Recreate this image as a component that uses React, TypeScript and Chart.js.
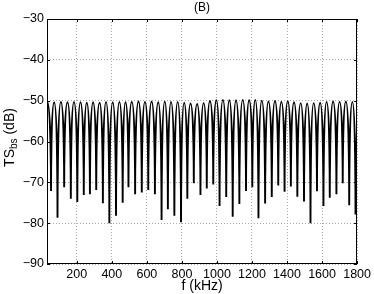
import { useEffect, useRef } from "react";
import { Chart, registerables } from "chart.js";

Chart.register(...registerables);

const chartTitle = "(B)";
const xAxisLabel = "f (kHz)";
const yAxisMain = "TS";
const yAxisSub = "bs";
const yAxisUnit = " (dB)";

const xMin = 30;
const xMax = 1800;
const yMin = -90;
const yMax = -30;
const xTicks = [200, 400, 600, 800, 1000, 1200, 1400, 1600, 1800];
const yTicks = [-90, -80, -70, -60, -50, -40, -30];

const startFreq = 30;
const startLevel = -50.1;
const endFreq = 1800;
const endLevel = -55.5;

const nullFreqs = [
  53, 90, 128, 166, 203, 240, 275, 311, 349, 386, 424, 462,
  495, 533, 571, 608, 646, 684, 720, 757, 795, 831, 868, 906,
  942, 979, 1015, 1053, 1090, 1128, 1166, 1202, 1237, 1275, 1313, 1350,
  1386, 1422, 1459, 1497, 1534, 1571, 1608, 1644, 1682, 1718, 1755, 1791,
];
const nullLevels = [
  -72.1, -78.7, -71.2, -74.0, -74.8, -73.1, -72.9, -71.9, -75.1, -80.0, -78.2, -75.0,
  -71.2, -72.9, -72.5, -71.9, -72.9, -79.2, -76.6, -78.2, -79.8, -74.0, -70.2, -73.1,
  -71.5, -70.5, -75.8, -73.6, -78.4, -75.3, -72.1, -71.2, -78.8, -75.2, -73.6, -70.8,
  -72.3, -71.0, -73.5, -74.7, -80.0, -72.2, -75.8, -73.8, -72.9, -70.2, -75.6, -77.9,
];
const peakFreqs = [
  71, 109, 147, 184, 221, 257, 293, 330, 367, 405, 443, 478,
  514, 552, 589, 627, 665, 702, 738, 776, 813, 849, 887, 924,
  960, 997, 1034, 1071, 1109, 1147, 1184, 1219, 1256, 1294, 1331, 1368,
  1404, 1440, 1478, 1515, 1552, 1589, 1626, 1663, 1700, 1736, 1773,
];
const peakLevels = [
  -50.4, -50.3, -50.4, -50.3, -50.4, -50.5, -50.4, -50.5, -50.3, -50.4, -50.3, -50.4,
  -50.3, -50.2, -50.3, -50.2, -50.4, -50.2, -50.3, -50.3, -50.5, -50.7, -50.8, -50.6,
  -50.1, -49.9, -49.8, -49.9, -49.9, -49.8, -49.9, -49.8, -50.0, -50.2, -50.1, -50.3,
  -50.1, -50.4, -50.6, -50.7, -50.6, -50.5, -50.3, -50.2, -50.3, -50.2, -50.3,
];

const FONT = "'Liberation Sans', Arial, Helvetica, sans-serif";

const fmt = (v: number) => String(v).replace("-", "\u2212");

// Shapes the library's Bezier curve: broad rounded lobes, sharp nulls.
const lobeShapePlugin = {
  id: "lobeShape",
  beforeDatasetsDraw(chart: any) {
    const meta = chart.getDatasetMeta(0);
    if (!meta || !meta.dataset) return;
    meta.dataset.updateControlPoints(chart.chartArea, "x");
    const pts = meta.data;
    const n = pts.length;
    for (let i = 0; i < n; i++) {
      const p = pts[i];
      const prev = i > 0 ? pts[i - 1] : null;
      const next = i < n - 1 ? pts[i + 1] : null;
      const isNull = (!prev || p.y > prev.y) && (!next || p.y > next.y);
      if (isNull || !next) {
        p.cp1x = p.x; p.cp1y = p.y;
        p.cp2x = p.x; p.cp2y = p.y;
      } else {
        p.cp1x = prev ? p.x - (p.x - prev.x) : p.x;
        p.cp1y = p.y;
        p.cp2x = p.x + (next.x - p.x);
        p.cp2y = p.y;
      }
    }
    meta.dataset._path = undefined;
  },
};

const framePlugin = {
  id: "matlabFrame",
  afterDraw(chart: any) {
    const { ctx, chartArea } = chart;
    const { left, right, top, bottom } = chartArea;
    const xs = chart.scales.x;
    const ys = chart.scales.y;
    ctx.save();
    ctx.strokeStyle = "#000";
    ctx.lineWidth = 1;
    ctx.setLineDash([]);
    ctx.strokeRect(Math.round(left) + 0.5, Math.round(top) + 0.5, Math.round(right - left) - 1, Math.round(bottom - top) - 1);
    const tl = 3;
    ctx.beginPath();
    for (const v of xTicks) {
      const px = Math.round(xs.getPixelForValue(v)) + 0.5;
      ctx.moveTo(px, bottom);
      ctx.lineTo(px, bottom - tl);
      ctx.moveTo(px, top);
      ctx.lineTo(px, top + tl);
    }
    for (const v of yTicks) {
      const py = Math.round(ys.getPixelForValue(v)) + 0.5;
      ctx.moveTo(left, py);
      ctx.lineTo(left + tl, py);
      ctx.moveTo(right, py);
      ctx.lineTo(right - tl, py);
    }
    ctx.stroke();

    ctx.fillStyle = "#000";
    ctx.font = `12px ${FONT}`;
    ctx.textAlign = "center";
    ctx.textBaseline = "alphabetic";
    ctx.fillText(chartTitle, (left + right) / 2, 11);
    ctx.font = `14px ${FONT}`;
    ctx.fillText(xAxisLabel, (left + right) / 2, 290);
    const mainFont = `14px ${FONT}`;
    const subFont = `10px ${FONT}`;
    ctx.font = mainFont;
    const w1 = ctx.measureText(yAxisMain).width;
    const w3 = ctx.measureText(yAxisUnit).width;
    ctx.font = subFont;
    const w2 = ctx.measureText(yAxisSub).width;
    const total = w1 + w2 + w3;
    ctx.translate(14, (top + bottom) / 2 - 4);
    ctx.rotate(-Math.PI / 2);
    ctx.textAlign = "left";
    let x0 = -total / 2;
    ctx.font = mainFont;
    ctx.fillText(yAxisMain, x0, 0);
    x0 += w1;
    ctx.font = subFont;
    ctx.fillText(yAxisSub, x0, 3);
    x0 += w2;
    ctx.font = mainFont;
    ctx.fillText(yAxisUnit, x0, 0);
    ctx.restore();
  },
};

export default function App() {
  const canvasRef = useRef<HTMLCanvasElement | null>(null);

  useEffect(() => {
    document.body.style.margin = "0";
    const canvas = canvasRef.current;
    if (!canvas) return;

    const points: { x: number; y: number }[] = [{ x: startFreq, y: startLevel }];
    for (let i = 0; i < nullFreqs.length; i++) {
      points.push({ x: nullFreqs[i], y: nullLevels[i] });
      if (i < peakFreqs.length) points.push({ x: peakFreqs[i], y: peakLevels[i] });
    }
    points.push({ x: endFreq, y: endLevel });

    const chart = new Chart(canvas, {
      type: "line",
      data: {
        datasets: [
          {
            data: points,
            borderColor: "#000",
            borderWidth: 1.9,
            pointRadius: 0,
            fill: false,
            tension: 0.4,
          },
        ],
      },
      options: {
        animation: false,
        responsive: false,
        events: [],
        layout: { padding: { left: 0, right: 14, top: 19, bottom: 0 } },
        plugins: {
          legend: { display: false },
          tooltip: { enabled: false },
          title: { display: false },
        },
        scales: {
          x: {
            type: "linear",
            min: xMin,
            max: xMax,
            afterBuildTicks: (s: any) => {
              s.ticks = xTicks.map((v) => ({ value: v }));
            },
            afterFit: (s: any) => {
              s.height = 30;
            },
            grid: { color: "#a8a8a8", lineWidth: 1, drawTicks: false },
            border: { display: false, dash: [1, 2] },
            ticks: {
              color: "#000",
              padding: 3,
              maxRotation: 0,
              autoSkip: false,
              font: { family: FONT, size: 12.5 },
              callback: (v: any) => fmt(Number(v)),
            },
          },
          y: {
            type: "linear",
            min: yMin,
            max: yMax,
            afterBuildTicks: (s: any) => {
              s.ticks = yTicks.map((v) => ({ value: v }));
            },
            afterFit: (s: any) => {
              s.width = 47;
            },
            grid: { color: "#a8a8a8", lineWidth: 1, drawTicks: false },
            border: { display: false, dash: [1, 2] },
            ticks: {
              color: "#000",
              padding: 3,
              autoSkip: false,
              font: { family: FONT, size: 12.5 },
              callback: (v: any) => fmt(Number(v)),
            },
          },
        },
      },
      plugins: [lobeShapePlugin, framePlugin],
    } as any);

    return () => chart.destroy();
  }, []);

  return (
    <div style={{ width: 374, height: 294, background: "#fff" }}>
      <canvas ref={canvasRef} width={374} height={294} style={{ display: "block", width: 374, height: 294 }} />
    </div>
  );
}
